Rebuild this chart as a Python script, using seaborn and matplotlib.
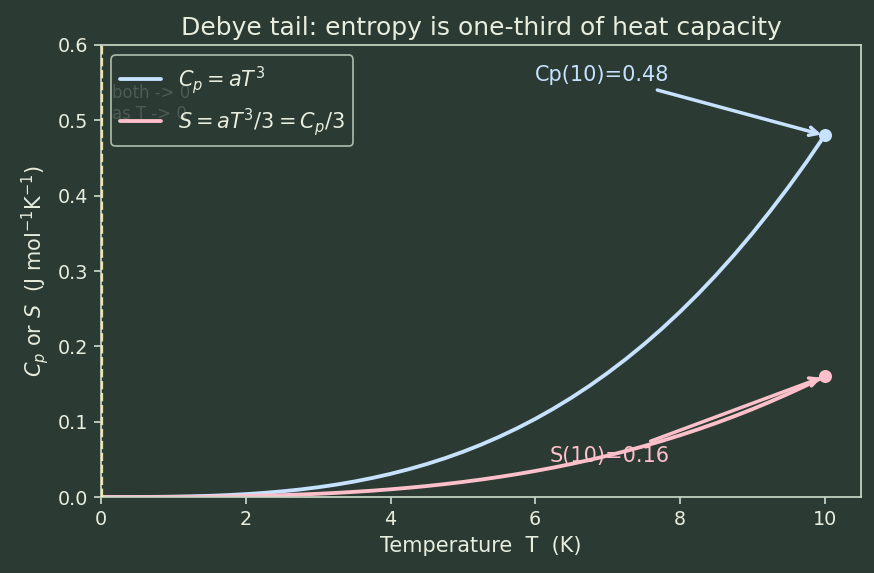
import matplotlib
matplotlib.use("Agg")
import matplotlib.pyplot as plt
import seaborn as sns
import pandas as pd

# Data
T = [0, 0.25, 0.5, 0.75, 1, 1.25, 1.5, 1.75, 2, 2.25, 2.5, 2.75, 3, 3.25, 3.5, 3.75, 4, 4.25,
     4.5, 4.75, 5, 5.25, 5.5, 5.75, 6, 6.25, 6.5, 6.75, 7, 7.25, 7.5, 7.75, 8, 8.25, 8.5, 8.75,
     9, 9.25, 9.5, 9.75, 10]
Cp = [0, 0.0000075, 0.00006, 0.0002025, 0.00048, 0.0009375, 0.00162, 0.0025725, 0.00384,
      0.0054675, 0.0075, 0.0099825, 0.01296, 0.0164775, 0.02058, 0.0253125, 0.03072, 0.0368475,
      0.04374, 0.0514425, 0.06, 0.0694575, 0.07986, 0.0912525, 0.10368, 0.1171875, 0.13182,
      0.1476225, 0.16464, 0.1829175, 0.2025, 0.2234325, 0.24576, 0.2695275, 0.29478, 0.3215625,
      0.34992, 0.3799575, 0.41154, 0.4448925, 0.48]
S = [0, 0.0000025, 0.00002, 0.0000675, 0.00016, 0.0003125, 0.00054, 0.0008575, 0.00128,
     0.0018225, 0.0025, 0.0033275, 0.00432, 0.0054925, 0.00686, 0.0084375, 0.01024, 0.0122825,
     0.01458, 0.0171475, 0.02, 0.0231525, 0.02662, 0.0304175, 0.03456, 0.0390625, 0.04394,
     0.0492075, 0.05488, 0.0609725, 0.0675, 0.0744775, 0.08192, 0.0898425, 0.09826, 0.1071875,
     0.11664, 0.1266525, 0.13718, 0.1482975, 0.16]
T_end = 10
Cp_end = 0.48
S_end = 0.16
labels = ["$C_p = aT^3$", "$S = aT^3/3 = C_p/3$"]

BG = "#2b3a33"
FG = "#e8eede"
SPINE = "#c8d6c6"
BLUE = "#c6e2ff"
PINK = "#ffc0cb"

sns.set_style("dark", {"axes.facecolor": BG, "figure.facecolor": BG})
plt.rcParams.update({
    "text.color": FG, "axes.labelcolor": FG, "xtick.color": FG, "ytick.color": FG,
    "axes.edgecolor": SPINE, "font.size": 12,
})
plt.rcParams["font.family"] = ["DejaVu Sans"]

DPI = 125
fig = plt.figure(figsize=(874 / DPI, 573 / DPI), dpi=DPI)
ax = fig.add_axes([0.1156, 0.1326, 0.985 - 0.1156, 0.9215 - 0.1326])
ax.set_facecolor(BG)

df = pd.DataFrame({"T": T, "Cp": Cp, "S": S})
sns.lineplot(data=df, x="T", y="Cp", ax=ax, color=BLUE, lw=2.2, label=labels[0])
sns.lineplot(data=df, x="T", y="S", ax=ax, color=PINK, lw=2.2, label=labels[1])
ax.plot([T_end], [Cp_end], "o", color=BLUE, ms=6.5)
ax.plot([T_end], [S_end], "o", color=PINK, ms=6.5)

ax.axvline(0.02, color="#fff0a8", lw=1.3, ls="--", alpha=0.9, zorder=3)
ax.text(0.15, 0.522, "both -> 0\nas T -> 0", color="#d4ded6", fontsize=9.5,
        va="center", ha="left", zorder=1, linespacing=1.25)

ax.annotate(f"Cp(10)={Cp_end:.2f}", xy=(T_end, Cp_end), xytext=(6.0, 0.552),
            color=BLUE, fontsize=12,
            arrowprops=dict(arrowstyle="->", color=BLUE, lw=2))
ax.annotate(f"S(10)={S_end:.2f}", xy=(T_end, S_end), xytext=(6.2, 0.046),
            color=PINK, fontsize=12,
            arrowprops=dict(arrowstyle="->", color=PINK, lw=2))

ax.set_xlim(0, 10.5)
ax.set_ylim(0, 0.6)
ax.set_xticks([0, 2, 4, 6, 8, 10])
ax.set_yticks([0, 0.1, 0.2, 0.3, 0.4, 0.5, 0.6])
ax.tick_params(axis="both", which="both", length=4, width=1, color=SPINE, labelsize=11,
               bottom=True, left=True)
for s in ax.spines.values():
    s.set_visible(True)
    s.set_color(SPINE)
    s.set_linewidth(1)

ax.set_xlabel("Temperature  T  (K)", fontsize=12)
ax.set_ylabel("$C_p$ or $S$  (J mol$^{-1}$K$^{-1}$)", fontsize=12)
ax.set_title("Debye tail: entropy is one-third of heat capacity", fontsize=14.4, color=FG, pad=6)

leg = ax.legend(loc="upper left", fontsize=12, frameon=True, facecolor=BG,
                edgecolor=SPINE, framealpha=0.8)
for t in leg.get_texts():
    t.set_color(FG)
leg.set_zorder(5)

fig.savefig("out.png", dpi=DPI, facecolor=BG)
